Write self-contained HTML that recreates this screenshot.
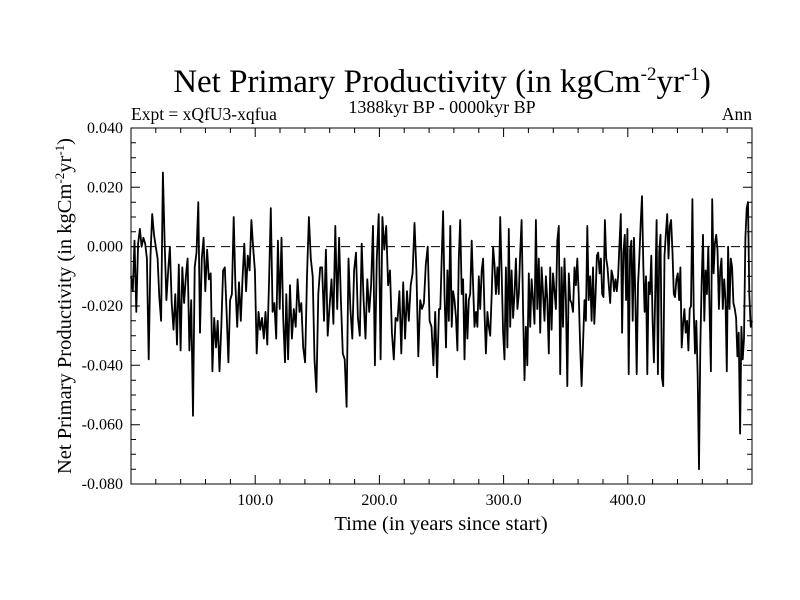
<!DOCTYPE html>
<html><head><meta charset="utf-8"><style>
html,body{margin:0;padding:0;background:#fff;}
svg{display:block;font-family:"Liberation Serif",serif;}
</style></head><body>
<svg id="chart" width="800" height="600" viewBox="0 0 800 600">
<text x="442" y="92" font-size="33" text-anchor="middle">Net Primary Productivity (in kgCm<tspan dy="-12" font-size="19">-2</tspan><tspan dy="12">yr</tspan><tspan dy="-12" font-size="19">-1</tspan><tspan dy="12">)</tspan></text>
<text x="131" y="120" font-size="17.5">Expt = xQfU3-xqfua</text>
<text x="442" y="113" font-size="18" text-anchor="middle">1388kyr BP - 0000kyr BP</text>
<text x="752" y="120" font-size="17.5" text-anchor="end">Ann</text>
<text transform="translate(71,306) rotate(-90)" font-size="20.5" text-anchor="middle">Net Primary Productivity (in kgCm<tspan dy="-7" font-size="13">-2</tspan><tspan dy="7">yr</tspan><tspan dy="-7" font-size="13">-1</tspan><tspan dy="7">)</tspan></text>
<text x="441" y="530" font-size="20.5" text-anchor="middle">Time (in years since start)</text>
<g id="axes"></g>
<g id="series"></g>
</svg>
<script>
const xTickValues=[100,200,300,400];
const xTickLabels=["100.0","200.0","300.0","400.0"];
const yTickValues=[0.04,0.02,0,-0.02,-0.04,-0.06,-0.08];
const yTickLabels=["0.040","0.020","0.000","-0.020","-0.040","-0.060","-0.080"];
const segStart=[0,125,249,373];
const segEnd=[124,248,372,500];
const seg1=[-10,-15,2,-22,1,6,0,3,1,-4,-38,-3,11,4,0,-4,-17,-25,25,2,-18,-8,0,-19,-28,-16,-33,-6,-35,-7,-19,-10,-4,-35,-18,-57,-7,-2,15,-29,-4,3,-15,-1,-11,-9,-42,-24,-34,-25,-42,-27,-8,-7,-22,-39,-18,-16,10,-13,-27,-12,-25,-11,1,-15,-3,-8,9,0,-8,-36,-22,-28,-24,-31,-22,-33,-11,13,-22,-19,-31,2,-21,3,-24,-39];
const seg2=[-16,-38,-13,-31,-21,-27,-11,-22,-19,-34,-39,-10,10,-4,-10,-38,-49,-16,-7,-7,-25,-1,-30,-20,-11,-26,7,-21,3,-18,-36,-38,-54,-4,-21,-31,-8,-2,-24,-30,1,-18,-31,-11,-22,-13,7,-40,-4,11,-38,10,-1,7,-13,-8,-29,-38,-24,-25,-15,-36,-12,-31,-15,-25,-13,-9,8,-8,-37,-18,-21,-19,-6,0,-25,-27,-40,-22,-44,-21];
const seg3=[-21,-4,12,-16,-34,-8,-25,7,-27,-15,-18,-24,-35,-4,9,-16,-11,-38,-16,-31,-18,-16,2,-13,-27,-22,-27,-10,-21,-8,-4,-22,-36,-22,-27,-30,-16,0,-6,-16,-7,-16,10,-8,-29,-38,-7,-34,6,-27,-8,-24,-16,-4,-21,-16,-2,9,-22,-45,-27,-40,-9,-27,-11,-18,-26,9,-21,-4,-29,-7,-16,-25,-10,-18,-36,-7,-28,-9,-15,-21,2,7,-43,-7,-27,-4,-18,-47,-9,-18,-19,-22,-7,-13,-4,-16,-34,-47,-33,-18,-25,7,-18,-10,-25,-7];
const seg4=[-26,-16,-3,-2,-9,-4,-16,-17,9,-4,-7,-13,-19,-8,-10,-15,-11,-15,-10,1,11,-29,-2,4,-18,6,-43,-1,2,-25,3,-18,-43,-13,-4,8,17,-6,-22,-10,-43,-12,-16,-3,-25,-39,-16,9,-43,-2,4,-44,-47,-3,4,11,-4,7,9,-2,-16,-17,-11,-9,-18,-7,-34,-26,-21,-29,-25,-35,-21,-20,16,-21,-36,-25,-44,-75,-34,-13,4,-25,-8,-16,0,-22,-42,16,-9,1,4,-1,-21,-8,-4,-21,-11,-18,-42,0,-21,-4,-7,-19,-21,-24,-37,-29,-63,-27,-38,-31,3,13,15,-16,-27,-25];
const segments=[seg1,seg2,seg3,seg4];

const L=131,R=752,T=128,B=484;
const xMin=0,xMax=500,yMin=-0.08,yMax=0.04;
const xs=v=>L+(v-xMin)/(xMax-xMin)*(R-L);
const ys=v=>B-(v-yMin)/(yMax-yMin)*(B-T);
const NS="http://www.w3.org/2000/svg";
function mk(tag,attrs,parent){const e=document.createElementNS(NS,tag);for(const k in attrs)e.setAttribute(k,attrs[k]);parent.appendChild(e);return e;}
const axes=document.getElementById('axes');
const series=document.getElementById('series');

const frame=mk('rect',{x:L,y:T,width:R-L,height:B-T,fill:'none',stroke:'#000','stroke-width':1},axes);



let tp='';
for(let v=20;v<500;v+=20){const x=xs(v).toFixed(1);const len=(v%100===0)?9:5;tp+=`M${x} ${B}V${B-len}M${x} ${T}V${T+len}`;}
for(let i=0;i<=24;i++){const v=yMin+i*0.005;const y=ys(v).toFixed(1);const len=(i%4===0)?9:5;tp+=`M${L} ${y}H${L+len}M${R} ${y}H${R-len}`;}
const ticks=mk('path',{d:tp,stroke:'#000','stroke-width':1,fill:'none'},axes);



xTickValues.forEach((v,i)=>{
  const t=mk('text',{x:xs(v),y:B+21,'font-size':16,'text-anchor':'middle'},axes);
  t.textContent=xTickLabels[i];
  
  
});
yTickValues.forEach((v,i)=>{
  const t=mk('text',{x:L-8,y:ys(v)+5,'font-size':16,'text-anchor':'end'},axes);
  t.textContent=yTickLabels[i];
  
  
});
const zl=mk('line',{x1:L,x2:R,y1:ys(0),y2:ys(0),stroke:'#000','stroke-width':1,'stroke-dasharray':'9,6'},axes);



let d='';
segments.forEach((seg,si)=>{
  const a=segStart[si],b=segEnd[si];
  seg.forEach((v,i)=>{
    const yr=a+(b-a)*i/(seg.length-1);
    d+=(d===''?'M':'L')+xs(yr).toFixed(1)+' '+ys(v/1000).toFixed(1);
  });
});
const line=mk('path',{d:d,fill:'none',stroke:'#000','stroke-width':1.8,'stroke-linejoin':'round'},series);


</script>
</body></html>
